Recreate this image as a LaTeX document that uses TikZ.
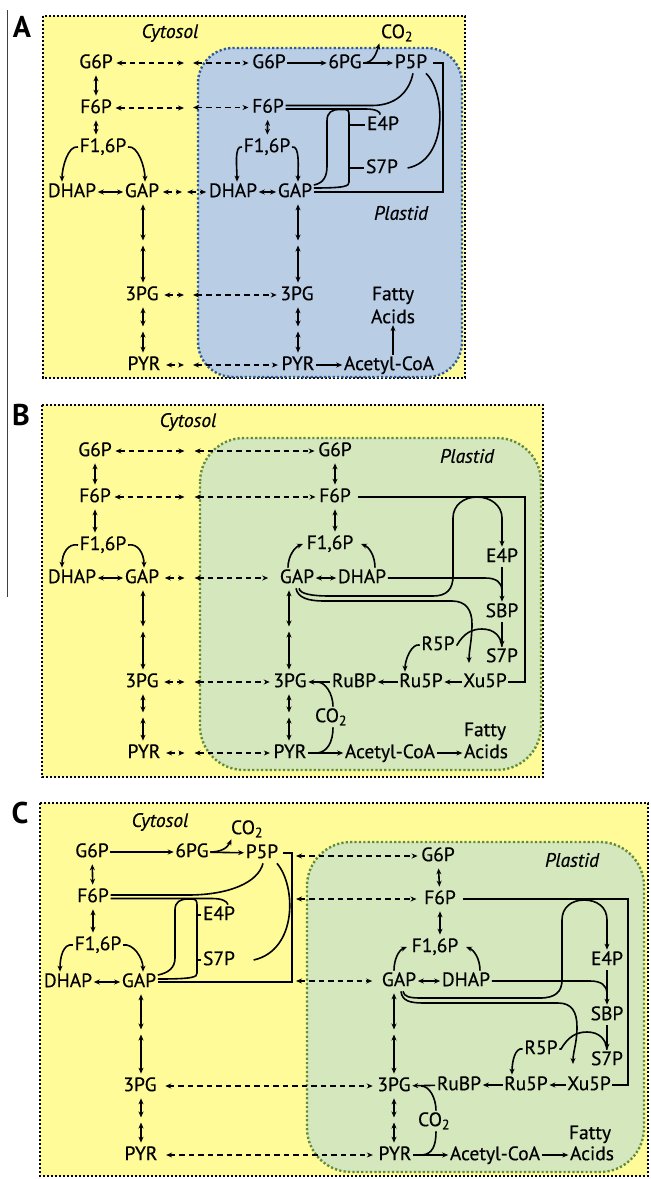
\documentclass[tikz,border=0pt]{standalone}
\usepackage{fontspec}
\setmainfont{PT Sans}
\newfontfamily\metfam{PT Sans}[FakeBold=0.45]
\usepackage{xcolor}
\usetikzlibrary{arrows.meta}
\definecolor{CytoYellow}{HTML}{FFFB99}
\definecolor{PlastBlue}{HTML}{B9CDE5}
\definecolor{PlastBlueEdge}{HTML}{2E5A98}
\definecolor{PlastGreen}{HTML}{D5E7BD}
\definecolor{PlastGreenEdge}{HTML}{5F8B3B}
\newcommand{\metsize}{\metfam\fontsize{19.5}{22}\selectfont}

\tikzset{
  met/.style={font=\metsize, inner sep=1.5pt, text height=13.8pt, text depth=3.5pt},
  compart/.style={font=\metsize\itshape, inner sep=1pt},
  panel/.style={font=\fontsize{30}{32}\selectfont\bfseries, inner sep=0pt},
  cytobox/.style={fill=CytoYellow, draw=black, line width=2.6pt, dash pattern=on 2.4pt off 1.6pt},
  bluebox/.style={fill=PlastBlue, draw=PlastBlueEdge, line width=2.4pt, dash pattern=on 2.2pt off 2.2pt, rounded corners=35pt},
  greenbox/.style={fill=PlastGreen, draw=PlastGreenEdge, line width=2.4pt, dash pattern=on 2.2pt off 2.2pt, rounded corners=44pt},
  ln/.style={line width=1.6pt},
  arr/.style={ln, -{Stealth[length=6pt,width=5pt]}},
  dbl/.style={ln, {Stealth[length=6pt,width=5pt]}-{Stealth[length=6pt,width=5pt]}},
  vdbl/.style={dbl, shorten <=2pt, shorten >=2pt},
  dsh/.style={dbl, dash pattern=on 5.5pt off 4pt},
}

\begin{document}
\begin{tikzpicture}[x=1pt, y=-1pt]
\useasboundingbox (0,0) rectangle (651,1179);
\draw[line width=1pt, black!75] (7,10) -- (7,597);

% ================= panel A =================
\draw[cytobox] (43,16) rectangle (465,378);
\draw[bluebox] (198,48) rectangle (462,377);
\node[panel] (labA) at (22,27) {A};
\node[compart] (cytA) at (170,33) {Cytosol};
\node[compart] (plA) at (401,213) {Plastid};

\node[met] (g6pCa) at (96,63) {G6P};
\node[met] (f6pCa) at (96,108) {F6P};
\node[met] (f16pCa) at (103,147) {F1,6P};
\node[met] (dhapCa) at (72,192) {DHAP};
\node[met] (gapCa) at (142,192) {GAP};
\node[met] (pgCa) at (142,295) {3PG};
\node[met] (pyrCa) at (144,365) {PYR};

\node[met] (g6pA) at (269,63) {G6P};
\node[met] (pgdA) at (345,63) {6PG};
\node[met] (p5pA) at (411,63) {P5P};
\node[met] (co2A) at (397,33) {CO\textsubscript{2}};
\node[met] (f6pA) at (268,107.5) {F6P};
\node[met] (e4pA) at (383,125) {E4P};
\node[met] (s7pA) at (382,168) {S7P};
\node[met] (f16pA) at (267,147) {F1,6P};
\node[met] (dhapA) at (233,192) {DHAP};
\node[met] (gapA) at (295,192) {GAP};
\node[met] (pgA) at (297,295) {3PG};
\node[met] (pyrA) at (298,365) {PYR};
\node[met] (acoA) at (389,365) {Acetyl-CoA};
\node[font=\metfam\fontsize{19.5}{23}\selectfont, align=center, inner sep=1.5pt] (faA) at (393,305) {Fatty\\Acids};

\coordinate (mbA) at (188.5,0);
\coordinate (mbAg) at (185,0);
\coordinate (mA1) at (143,243);
\coordinate (mA2) at (298,243);
\coordinate (mA3) at (143,329);
\coordinate (mA4) at (298,329);
\coordinate (tkA) at (349,150);
\coordinate (brA) at (443,150);

% cytosol
\draw[vdbl] (g6pCa) -- (f6pCa);
\draw[vdbl] (f6pCa) -- (f16pCa.north -| f6pCa);
\draw[arr] (f16pCa.west) .. controls +(-10,-2) and +(0,-14) .. ([xshift=-10pt]dhapCa.north);
\draw[arr] (f16pCa.east) .. controls +(10,-2) and +(0,-14) .. ([xshift=3pt]gapCa.north);
\draw[dbl] (dhapCa) -- (gapCa);
\draw[dbl, shorten <=2pt, shorten >=2.5pt] (gapCa.south -| mA1) -- (mA1);
\draw[dbl, shorten <=2.5pt, shorten >=2pt] (mA1) -- (pgCa.north -| mA1);
\draw[dbl, shorten <=2pt, shorten >=2.5pt] (pgCa.south -| mA3) -- (mA3);
\draw[dbl, shorten <=2.5pt, shorten >=2pt] (mA3) -- (pyrCa.north -| mA3);

% exchange across the envelope
\draw[dsh, shorten <=2pt, shorten >=4.5pt] (g6pCa) -- (mbA |- g6pCa);
\draw[dsh, shorten <=4.5pt, shorten >=2pt] (mbA |- g6pA) -- (g6pA);
\draw[dsh, shorten <=2pt, shorten >=4.5pt] (f6pCa) -- (mbA |- f6pCa);
\draw[dsh, shorten <=4.5pt, shorten >=2pt] (mbA |- f6pA) -- (f6pA);
\draw[dsh, shorten <=2pt, shorten >=3pt] (gapCa) -- (mbAg |- gapCa);
\draw[dsh, shorten <=2pt, shorten >=1pt] (mbAg |- dhapA) -- (dhapA);
\draw[dsh, shorten <=4pt, shorten >=4.5pt] (pgCa) -- (mbA |- pgCa);
\draw[dsh, shorten <=4.5pt, shorten >=2pt] (mbA |- pgA) -- (pgA);
\draw[dsh, shorten <=4pt, shorten >=4.5pt] (pyrCa) -- (mbA |- pyrCa);
\draw[dsh, shorten <=4.5pt, shorten >=2pt] (mbA |- pyrA) -- (pyrA);

% plastid
\draw[arr] (g6pA) -- (pgdA);
\draw[arr] (pgdA) -- (p5pA);
\draw[arr] (pgdA.east) .. controls +(10,0) and +(-3,10) .. (co2A.south west);
\draw[vdbl] (f6pA) -- (f16pA);
\draw[arr] (f16pA.west) .. controls +(-8,-2) and +(0,-14) .. ([xshift=4pt]dhapA.north);
\draw[arr] (f16pA.east) .. controls +(8,-2) and +(0,-14) .. ([xshift=3pt]gapA.north);
\draw[dbl] (dhapA) -- (gapA);
\draw[dbl, shorten <=2pt, shorten >=2.5pt] (gapA.south -| mA2) -- (mA2);
\draw[dbl, shorten <=2.5pt, shorten >=2pt] (mA2) -- (pgA.north -| mA2);
\draw[dbl, shorten <=2pt, shorten >=2.5pt] (pgA.south -| mA4) -- (mA4);
\draw[dbl, shorten <=2.5pt, shorten >=2pt] (mA4) -- (pyrA.north -| mA4);
\draw[arr] (pyrA) -- (acoA);
\draw[arr] (faA.south |- acoA.north) -- (faA.south);
\draw[ln] ([yshift=2pt]f6pA.east) -- (372,105.5) .. controls (396,105.5) and (409,92) .. ([xshift=2pt]p5pA.south);
\draw[ln] ([yshift=-1.5pt]f6pA.east) -- (366,109) .. controls (376,109) and (381,112) .. ([xshift=-3pt]e4pA.north);
\draw[ln] ([yshift=7pt]gapA.east) .. controls (324,183) and (327,176) .. (327,166) -- (327,121)
  .. controls (327,112) and (332,109.5) .. (340,109.5) -- (344,109.5)
  .. controls (348,109.5) and (349,111) .. (349,115) -- (349,182)
  .. controls (349,186) and (346,188) .. ([yshift=4pt]gapA.east);
\draw[ln] (tkA |- e4pA.west) -- (e4pA.west);
\draw[ln] (tkA |- s7pA.west) -- (s7pA.west);
\draw[ln] ([xshift=-3pt]p5pA.south east) .. controls (446,92) and (448,160) .. ([xshift=8pt]s7pA.east);
\draw[ln] ([xshift=4pt]p5pA.east) -| (brA) |- (gapA.east);

% ================= panel B =================
\draw[cytobox] (42,405) rectangle (543,777);
\draw[greenbox] (200,438) rectangle (541,770);
\node[panel] (labB) at (21,415) {B};
\node[compart] (cytB) at (188,422) {Cytosol};
\node[compart] (plB) at (467,456) {Plastid};

\node[met] (g6pCb) at (95,451) {G6P};
\node[met] (f6pCb) at (95,497) {F6P};
\node[met] (f16pCb) at (103,545) {F1,6P};
\node[met] (dhapCb) at (72,578) {DHAP};
\node[met] (gapCb) at (142,578) {GAP};
\node[met] (pgCb) at (142,682) {3PG};
\node[met] (pyrCb) at (144,753) {PYR};

\node[met] (g6pB) at (335,451) {G6P};
\node[met] (f6pB) at (335,497) {F6P};
\node[met] (f16pB) at (330,544) {F1,6P};
\node[met] (gapB) at (297,578) {GAP};
\node[met] (dhapB) at (362,578) {DHAP};
\node[met] (e4pB) at (502,557) {E4P};
\node[met] (sbpB) at (502,612) {SBP};
\node[met] (s7pB) at (502,657) {S7P};
\node[met] (r5pB) at (438,645) {R5P};
\node[met] (xu5pB) at (485,682) {Xu5P};
\node[met] (ru5pB) at (421,682) {Ru5P};
\node[met] (rubpB) at (354,682) {RuBP};
\node[met] (pgB) at (290,682) {3PG};
\node[met] (co2B) at (331,717) {CO\textsubscript{2}};
\node[met] (pyrB) at (290,753) {PYR};
\node[met] (acoB) at (390,753) {Acetyl-CoA};
\node[met] (fatB) at (485,731) {Fatty};
\node[met] (acidsB) at (486,753) {Acids};

\coordinate (mbB) at (189.5,0);
\coordinate (mB1) at (143,629);
\coordinate (mB2) at (289,629);
\coordinate (mB3) at (143,715);
\coordinate (mB4) at (289,715);
\coordinate (brB) at (525,590);
\coordinate (tB) at (469,663);

% cytosol
\draw[vdbl] (g6pCb) -- (f6pCb);
\draw[vdbl] (f6pCb) -- (f16pCb.north -| f6pCb);
\draw[arr] (f16pCb.west) .. controls +(-10,-2) and +(0,-14) .. ([xshift=-10pt]dhapCb.north);
\draw[arr] (f16pCb.east) .. controls +(10,-2) and +(0,-14) .. ([xshift=2pt]gapCb.north);
\draw[dbl] (dhapCb) -- (gapCb);
\draw[dbl, shorten <=2pt, shorten >=2.5pt] (gapCb.south -| mB1) -- (mB1);
\draw[dbl, shorten <=2.5pt, shorten >=2pt] (mB1) -- (pgCb.north -| mB1);
\draw[dbl, shorten <=2pt, shorten >=2.5pt] (pgCb.south -| mB3) -- (mB3);
\draw[dbl, shorten <=2.5pt, shorten >=2pt] (mB3) -- (pyrCb.north -| mB3);

% exchange across the envelope
\draw[dsh, shorten <=2pt, shorten >=5pt] (g6pCb) -- (mbB |- g6pCb);
\draw[dsh, shorten <=5pt, shorten >=2pt] (mbB |- g6pB) -- (g6pB);
\draw[dsh, shorten <=2pt, shorten >=5pt] (f6pCb) -- (mbB |- f6pCb);
\draw[dsh, shorten <=5pt, shorten >=2pt] (mbB |- f6pB) -- (f6pB);
\draw[dsh, shorten <=4pt, shorten >=5pt] (gapCb) -- (mbB |- gapCb);
\draw[dsh, shorten <=5pt, shorten >=10pt] (mbB |- gapB) -- (gapB);
\draw[dsh, shorten <=4pt, shorten >=5pt] (pgCb) -- (mbB |- pgCb);
\draw[dsh, shorten <=5pt, shorten >=2pt] (mbB |- pgB) -- (pgB);
\draw[dsh, shorten <=4pt, shorten >=5pt] (pyrCb) -- (mbB |- pyrCb);
\draw[dsh, shorten <=5pt, shorten >=2pt] (mbB |- pyrB) -- (pyrB);

% plastid
\draw[vdbl] (g6pB) -- (f6pB);
\draw[vdbl] (f6pB) -- (f16pB.north -| f6pB);
\draw[arr] ([xshift=-9pt]gapB.north) .. controls +(0,-12) and +(-8,3) .. ([xshift=-2pt]f16pB.west);
\draw[arr] ([xshift=13pt]dhapB.north) .. controls +(0,-12) and +(8,3) .. ([xshift=6pt]f16pB.east);
\draw[dbl] (gapB) -- (dhapB);
\draw[dbl, shorten <=2pt, shorten >=2.5pt] (gapB.south -| mB2) -- (mB2);
\draw[dbl, shorten <=2.5pt, shorten >=2pt] (mB2) -- (pgB.north -| mB2);
\draw[dbl, shorten <=2pt, shorten >=2.5pt] (pgB.south -| mB4) -- (mB4);
\draw[dbl, shorten <=2.5pt, shorten >=2pt] (mB4) -- (pyrB.north -| mB4);
\draw[ln] ([xshift=5pt]f6pB.east) -| (brB) |- (xu5pB.east);
\draw[arr] ([xshift=2pt]gapB.south) .. controls (300,594) and (312,596) .. (330,596) -- (433,596)
  .. controls (447,596) and (453,589) .. (453,576) -- (453,518)
  .. controls (453,505) and (464,497) .. (477,497) .. controls (490,497) and (502,505) .. (502,518)
  -- (e4pB.north);
\draw[arr] ([xshift=-1pt]gapB.south) .. controls (298,598) and (308,601) .. (325,601) -- (452,601)
  .. controls (466,601) and (472,610) .. (472,624) .. controls (472,640) and (469,650) .. (tB);
\draw[ln] (dhapB.east) -- (485,578) .. controls (496,578) and (502,582) .. (502,591);
\draw[arr] (e4pB) -- (sbpB);
\draw[arr] (sbpB) -- (s7pB);
\draw[ln] (r5pB.east) -- (457,645) .. controls (464,633) and (472,629) .. (482,629)
  .. controls (494,629) and (501,636) .. (s7pB.north);
\draw[arr] (r5pB.west) .. controls +(-8,-2) and +(0,-12) .. ([xshift=-16pt]ru5pB.north);
\draw[arr] (xu5pB) -- (ru5pB);
\draw[arr] (ru5pB) -- (rubpB);
\draw[arr] (rubpB) -- (pgB);
\draw[ln] ([xshift=2pt]co2B.north) .. controls +(0,-13) and +(8,0) .. ([xshift=9pt]pgB.east);
\draw[ln] ([xshift=2pt]co2B.south) .. controls +(0,15) and +(10,-1) .. ([xshift=9pt]pyrB.east);
\draw[arr] (pyrB) -- (acoB);
\draw[arr] (acoB) -- (acidsB);

% ================= panel C =================
\draw[cytobox] (40,803) rectangle (648,1176);
\draw[greenbox] (307,842) rectangle (644,1172);
\node[panel] (labC) at (20,813) {C};
\node[compart] (cytC) at (160,822) {Cytosol};
\node[compart] (plC) at (572,860) {Plastid};

\node[met] (g6pC) at (92,852) {G6P};
\node[met] (pgdC) at (192,852) {6PG};
\node[met] (p5pC) at (262,853) {P5P};
\node[met] (co2C) at (247,829) {CO\textsubscript{2}};
\node[met] (f6pC) at (93,897) {F6P};
\node[met] (e4pC) at (219,915) {E4P};
\node[met] (s7pC) at (219,960) {S7P};
\node[met] (f16pC) at (98,945) {F1,6P};
\node[met] (dhapC) at (68,982) {DHAP};
\node[met] (gapC) at (139,982) {GAP};
\node[met] (pgC) at (140,1086) {3PG};
\node[met] (pyrC) at (141,1155) {PYR};

\node[met] (g6pP) at (438,856) {G6P};
\node[met] (f6pP) at (440,899) {F6P};
\node[met] (f16pP) at (435,947) {F1,6P};
\node[met] (gapP) at (399,981) {GAP};
\node[met] (dhapP) at (466,981) {DHAP};
\node[met] (e4pP) at (607,960) {E4P};
\node[met] (sbpP) at (607,1015) {SBP};
\node[met] (s7pP) at (607,1060) {S7P};
\node[met] (r5pP) at (541,1049) {R5P};
\node[met] (ru5pP) at (526,1085) {Ru5P};
\node[met] (xu5pP) at (589,1085) {Xu5P};
\node[met] (rubpP) at (459,1085) {RuBP};
\node[met] (pgP) at (394,1086) {3PG};
\node[met] (co2P) at (434,1121) {CO\textsubscript{2}};
\node[met] (pyrP) at (395,1155) {PYR};
\node[met] (acoP) at (495,1155) {Acetyl-CoA};
\node[met] (fatP) at (590,1134) {Fatty};
\node[met] (acidsP) at (592,1155) {Acids};

\coordinate (mbC) at (296,0);
\coordinate (mC1) at (141,1032);
\coordinate (mC3) at (141,1120);
\coordinate (mP1) at (394,1032);
\coordinate (mP3) at (394,1120);
\coordinate (tkC) at (197,940);
\coordinate (brC) at (292,920);
\coordinate (brP) at (628,1000);
\coordinate (tP) at (573,1064);

% cytosol
\draw[arr] (g6pC) -- (pgdC);
\draw[arr] (pgdC) -- (p5pC);
\draw[arr] (pgdC.east) .. controls +(10,0) and +(-4,9) .. ([xshift=2pt]co2C.south west);
\draw[vdbl] (g6pC) -- (f6pC);
\draw[vdbl] (f6pC) -- (f16pC.north -| f6pC);
\draw[arr] (f16pC.west) .. controls +(-10,-2) and +(0,-14) .. ([xshift=-8pt]dhapC.north);
\draw[arr] (f16pC.east) .. controls +(10,-2) and +(0,-14) .. ([xshift=4pt]gapC.north);
\draw[dbl] (dhapC) -- (gapC);
\draw[dbl, shorten <=2pt, shorten >=2.5pt] (gapC.south -| mC1) -- (mC1);
\draw[dbl, shorten <=2.5pt, shorten >=2pt] (mC1) -- (pgC.north -| mC1);
\draw[dbl, shorten <=2pt, shorten >=2.5pt] (pgC.south -| mC3) -- (mC3);
\draw[dbl, shorten <=2.5pt, shorten >=2pt] (mC3) -- (pyrC.north -| mC3);
\draw[ln] ([yshift=2pt]f6pC.east) -- (188,895) .. controls (228,895) and (258,883) .. ([xshift=1pt]p5pC.south);
\draw[ln] ([yshift=-1.5pt]f6pC.east) -- (212,898.5) .. controls (222,898.5) and (227,901) .. ([xshift=9pt]e4pC.north);
\draw[ln] ([yshift=7pt]gapC.east) .. controls (168,973) and (175,968) .. (175,958) -- (175,910)
  .. controls (175,902) and (180,899) .. (188,899) -- (192,899)
  .. controls (196,899) and (197,901) .. (197,905) -- (197,973)
  .. controls (197,977) and (194,979) .. ([yshift=3pt]gapC.east);
\draw[ln] (tkC |- e4pC.west) -- (e4pC.west);
\draw[ln] (tkC |- s7pC.west) -- (s7pC.west);
\draw[ln] ([xshift=-3pt]p5pC.south east) .. controls (296,885) and (298,950) .. ([xshift=17pt]s7pC.east);
\draw[ln] ([xshift=3pt]p5pC.east) -| (brC) |- (gapC.east);

% exchange across the envelope
\draw[dsh, shorten >=2pt] (mbC |- g6pP) -- (g6pP);
\draw[dsh, shorten >=6pt] (mbC |- f6pP) -- (f6pP);
\draw[dsh, shorten >=8pt] (mbC |- gapP) -- (gapP);
\draw[dsh, shorten <=7pt, shorten >=3pt] (pgC) -- (pgP);
\draw[dsh, shorten <=7pt, shorten >=4pt] (pyrC) -- (pyrP);

% plastid
\draw[vdbl] (g6pP) -- (f6pP);
\draw[vdbl] (f6pP) -- (f16pP.north -| f6pP);
\draw[arr] ([xshift=-5pt]gapP.north) .. controls +(0,-12) and +(-8,3) .. ([xshift=-3pt]f16pP.west);
\draw[arr] ([xshift=14pt]dhapP.north) .. controls +(0,-12) and +(8,3) .. ([xshift=6pt]f16pP.east);
\draw[dbl] (gapP) -- (dhapP);
\draw[dbl, shorten <=2pt, shorten >=2.5pt] (gapP.south -| mP1) -- (mP1);
\draw[dbl, shorten <=2.5pt, shorten >=2pt] (mP1) -- (pgP.north -| mP1);
\draw[dbl, shorten <=2pt, shorten >=2.5pt] (pgP.south -| mP3) -- (mP3);
\draw[dbl, shorten <=2.5pt, shorten >=2pt] (mP3) -- (pyrP.north -| mP3);
\draw[ln] ([xshift=5pt]f6pP.east) -| (brP) |- (xu5pP.east);
\draw[arr] ([xshift=4pt]gapP.south) .. controls (404,997) and (410,998) .. (422,998) -- (540,998)
  .. controls (555,998) and (562,992) .. (562,980) -- (562,920)
  .. controls (562,907) and (572,900) .. (584,900) .. controls (597,900) and (607,907) .. (607,920)
  -- (e4pP.north);
\draw[arr] ([xshift=2pt]gapP.south) .. controls (402,1001) and (410,1003) .. (424,1003) -- (558,1003)
  .. controls (572,1003) and (577,1012) .. (577,1027) .. controls (577,1043) and (573,1052) .. (tP);
\draw[ln] (dhapP.east) -- (590,981) .. controls (601,981) and (607,985) .. (607,994);
\draw[arr] (e4pP) -- (sbpP);
\draw[arr] (sbpP) -- (s7pP);
\draw[ln] (r5pP.east) -- (561,1049) .. controls (568,1037) and (576,1032) .. (587,1032)
  .. controls (599,1032) and (606,1039) .. (s7pP.north);
\draw[arr] (r5pP.west) .. controls +(-8,-2) and +(0,-12) .. ([xshift=-14pt]ru5pP.north);
\draw[arr] (xu5pP) -- (ru5pP);
\draw[arr] (ru5pP) -- (rubpP);
\draw[arr] (rubpP) -- (pgP);
\draw[ln] ([xshift=2pt]co2P.north) .. controls +(0,-13) and +(8,0) .. ([xshift=9pt]pgP.east);
\draw[ln] ([xshift=2pt]co2P.south) .. controls +(0,15) and +(10,-1) .. ([xshift=9pt]pyrP.east);
\draw[arr] (pyrP) -- (acoP);
\draw[arr] (acoP) -- (acidsP);
\end{tikzpicture}
\end{document}
